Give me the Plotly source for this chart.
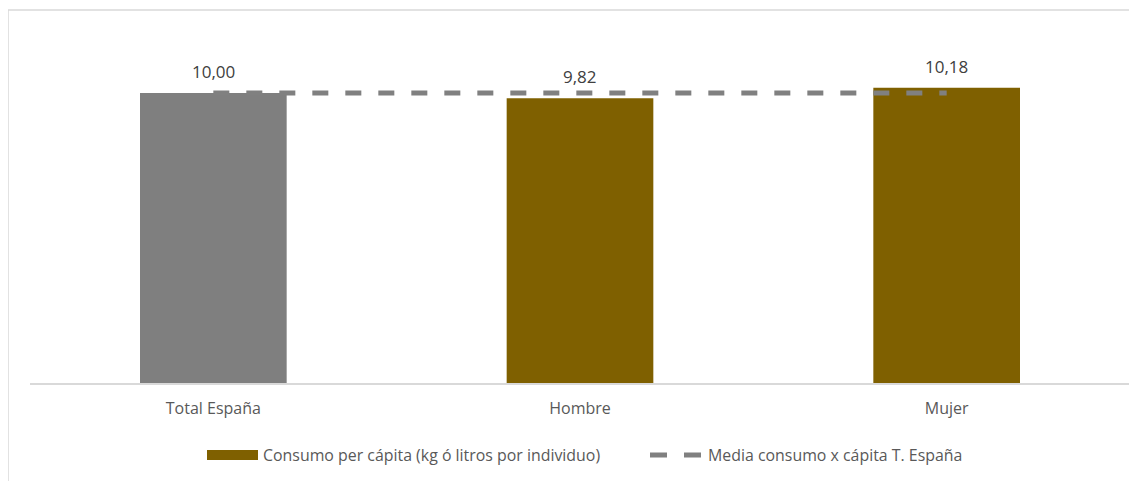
import plotly.graph_objects as go

categories = ["Total España", "Hombre", "Mujer"]
consumo = [10.00, 9.82, 10.18]
media = [10.00, 10.00, 10.00]
bar_colors = ["#7F7F7F", "#7F6000", "#7F6000"]
legend_names = ["Consumo per cápita (kg ó litros por individuo)", "Media consumo x cápita T. España"]

FONT = "'Open Sans', 'Noto Sans', sans-serif"

# page has an 8px body margin; positions below are in reference-pixel space
OFF = 8
L, R, T, B = 30, 1130, 35, 383
W, H = 1137 - OFF, 481 - OFF

def px(x):
    return (x - L) / (R - L)

def py(y):
    return (B - y) / (B - T)

fig = go.Figure()
fig.add_trace(go.Bar(
    x=categories, y=consumo, name=legend_names[0],
    marker=dict(color=bar_colors, line=dict(width=0)), width=0.4,
))
fig.add_trace(go.Scatter(
    x=categories, y=media, name=legend_names[1],
    mode="lines", line=dict(color="#808080", width=5, dash="16px,17px"),
))

for c, v in zip(categories, consumo):
    fig.add_annotation(x=c, y=v, text=f"{v:.2f}".replace(".", ","), showarrow=False,
                       yanchor="bottom", yshift=8, font=dict(size=17, color="#404040", family=FONT))

# chart border
fig.add_shape(type="rect", xref="paper", yref="paper", x0=px(8), x1=px(1150), y0=py(500), y1=py(10),
              line=dict(color="#D9D9D9", width=1.5), fillcolor="rgba(0,0,0,0)", layer="below")

# manual legend
fig.add_shape(type="rect", xref="paper", yref="paper", x0=px(207), x1=px(258), y0=py(460), y1=py(450),
              line=dict(width=0), fillcolor="#7F6000")
fig.add_annotation(xref="paper", yref="paper", x=px(261), y=py(455), text=legend_names[0],
                   showarrow=False, xanchor="left", yanchor="middle",
                   font=dict(size=15.9, color="#595959", family=FONT))
fig.add_shape(type="line", xref="paper", yref="paper", x0=px(650), x1=px(702), y0=py(455), y1=py(455),
              line=dict(color="#808080", width=5, dash="17px,17px"))
fig.add_annotation(xref="paper", yref="paper", x=px(706), y=py(455), text=legend_names[1],
                   showarrow=False, xanchor="left", yanchor="middle",
                   font=dict(size=15.9, color="#595959", family=FONT))

fig.update_layout(
    width=W, height=H,
    margin=dict(l=L - OFF, r=W - (R - OFF), t=T - OFF, b=H - (B - OFF), autoexpand=False),
    plot_bgcolor="white", paper_bgcolor="white",
    font=dict(family=FONT, size=16, color="#595959"),
    xaxis=dict(showline=True, linecolor="#D9D9D9", linewidth=1.5, showgrid=False,
               ticks="", ticklabelstandoff=10, tickfont=dict(size=16, color="#595959")),
    yaxis=dict(range=[0, 12], visible=False, showgrid=False),
    showlegend=False,
    bargap=0.6,
)

fig.write_html("out.html")
